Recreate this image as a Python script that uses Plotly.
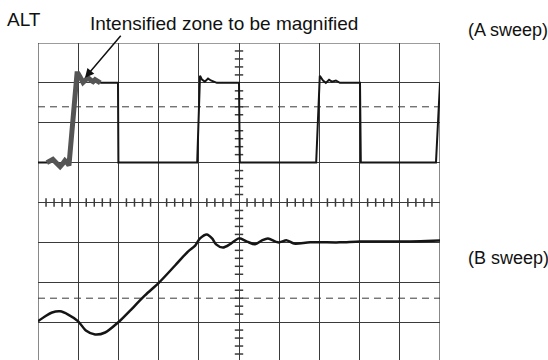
import plotly.graph_objects as go
import numpy as np

# ---- data (graticule divisions: x 0..10, y -4..4) ----
a_x = [0.00, 0.22, 0.30, 0.37, 0.47, 0.55, 0.62, 0.67, 0.72, 0.77, 0.97, 1.00, 1.04, 1.12, 1.19,
       1.24, 1.32, 1.37, 1.42, 1.49, 1.57, 1.99, 2.00, 3.96, 4.03, 4.08, 4.15, 4.23, 4.30, 4.38,
       4.45, 5.00, 5.02, 6.92, 7.01, 7.09, 7.16, 7.24, 7.31, 7.41, 7.51, 8.01, 8.03, 9.90, 10.0]
a_y = [1.00, 1.00, 1.03, 1.08, 0.98, 0.90, 0.98, 1.05, 1.00, 0.93, 3.23, 3.23, 3.16, 3.01, 3.08,
       3.13, 3.06, 3.03, 3.08, 3.03, 3.00, 3.00, 1.00, 1.00, 3.18, 3.08, 3.03, 3.11, 3.06, 3.03,
       3.00, 3.00, 1.00, 1.00, 3.18, 3.06, 3.00, 3.08, 3.03, 3.06, 3.00, 3.00, 1.00, 1.00, 3.00]

# intensified zone of the A sweep
zone_x = [0.22, 0.30, 0.37, 0.47, 0.55, 0.62, 0.67, 0.72, 0.77, 0.97, 1.00, 1.04, 1.12, 1.19,
          1.24, 1.32, 1.37, 1.42, 1.49, 1.55]
zone_y = [1.00, 1.03, 1.08, 0.98, 0.90, 0.98, 1.05, 1.00, 0.93, 3.23, 3.23, 3.16, 3.01, 3.08,
          3.13, 3.06, 3.03, 3.08, 3.03, 3.00]

b_x = [0.00, 0.17, 0.35, 0.55, 0.75, 1.00, 1.19, 1.42, 1.67, 1.99, 2.29, 2.66, 3.01, 3.41, 3.73,
       3.91, 4.03, 4.20, 4.33, 4.43, 4.60, 4.80, 5.00, 5.20, 5.40, 5.57, 5.72, 5.97, 6.19, 6.37,
       6.77, 7.51, 8.01, 9.00, 10.0]
b_y = [-2.98, -2.86, -2.76, -2.73, -2.81, -2.98, -3.21, -3.31, -3.26, -3.01, -2.71, -2.33, -2.01,
       -1.58, -1.23, -1.08, -0.90, -0.80, -0.90, -1.05, -1.13, -1.03, -0.90, -0.98, -1.05, -0.95,
       -0.90, -1.00, -0.95, -1.03, -1.00, -1.00, -0.98, -0.98, -0.95]

label_alt = "ALT"
label_zone = "Intensified zone to be magnified"
label_a = "(A sweep)"
label_b = "(B sweep)"

FONT = "Liberation Sans, Arial, Helvetica, sans-serif"
GRID = "#3a3a3a"
TRACE = "#151515"

fig = go.Figure()

# center-line minor ticks (graticule)
hx = [v for v in np.round(np.arange(0, 10.01, 0.2), 2) if abs(v - round(v)) > 1e-6]
vy = [v for v in np.round(np.arange(-4, 4.01, 0.2), 2) if abs(v - round(v)) > 1e-6]
fig.add_trace(go.Scatter(x=hx, y=[0] * len(hx), mode="markers", hoverinfo="skip",
                         marker=dict(symbol="line-ns-open", size=6, color=GRID, line=dict(color=GRID, width=1.5))))
fig.add_trace(go.Scatter(x=[5] * len(vy), y=vy, mode="markers", hoverinfo="skip",
                         marker=dict(symbol="line-ew-open", size=6, color=GRID, line=dict(color=GRID, width=1.5))))

fig.add_trace(go.Scatter(x=a_x, y=a_y, mode="lines", line=dict(color=TRACE, width=2), hoverinfo="skip"))
fig.add_trace(go.Scatter(x=zone_x, y=zone_y, mode="lines", line=dict(color="#555555", width=5), hoverinfo="skip"))
fig.add_trace(go.Scatter(x=b_x, y=b_y, mode="lines", line=dict(color=TRACE, width=2.5, shape="spline", smoothing=0.8),
                         hoverinfo="skip"))

# dashed 10% / 90% lines and outer frame
for yv in (2.4, -2.4):
    fig.add_shape(type="line", x0=0, x1=10, y0=yv, y1=yv, xref="x", yref="y",
                  line=dict(color=GRID, width=1, dash="7px,5px"), layer="below")
fig.add_shape(type="line", x0=0, x1=10, y0=4, y1=4, line=dict(color=GRID, width=1.2), layer="below")
fig.add_shape(type="line", x0=0, x1=0, y0=-4, y1=4, line=dict(color=GRID, width=1.2), layer="below")
fig.add_shape(type="line", x0=10, x1=10, y0=-4, y1=4, line=dict(color=GRID, width=1.2), layer="below")

TXT = dict(family=FONT, size=18, color="#111")
TXT19 = dict(family=FONT, size=19, color="#111")
fig.add_annotation(x=-0.0348, y=1.0757, xref="paper", yref="paper", text=label_alt, showarrow=False,
                   xanchor="center", yanchor="middle", font=TXT19)
fig.add_annotation(x=0.1244, y=1.063, xref="paper", yref="paper", text=label_zone, showarrow=False,
                   xanchor="left", yanchor="middle", font=TXT19)
fig.add_annotation(x=1.0647, y=1.041, xref="paper", yref="paper", text=label_a, showarrow=False,
                   xanchor="left", yanchor="middle", font=TXT)
fig.add_annotation(x=1.0647, y=0.3218, xref="paper", yref="paper", text=label_b, showarrow=False,
                   xanchor="left", yanchor="middle", font=TXT)
# arrow
fig.add_annotation(x=1.17, y=3.13, ax=2.09, ay=4.22, xref="x", yref="y", axref="x", ayref="y",
                   text="", showarrow=True, arrowhead=2, arrowsize=1.2, arrowwidth=1.5, arrowcolor="#111")

fig.update_xaxes(range=[0, 10], dtick=1, tick0=0, showgrid=True, gridcolor=GRID, gridwidth=1,
                 zeroline=False, showticklabels=False, ticks="", showline=False)
fig.update_yaxes(range=[-3.95, 4], dtick=1, tick0=0, showgrid=True, gridcolor=GRID, gridwidth=1,
                 zeroline=False, showticklabels=False, ticks="", showline=False)
fig.update_layout(width=548, height=360, margin=dict(l=38, r=108, t=43, b=0),
                  paper_bgcolor="white", plot_bgcolor="white", showlegend=False)
fig.write_html("out.html")
